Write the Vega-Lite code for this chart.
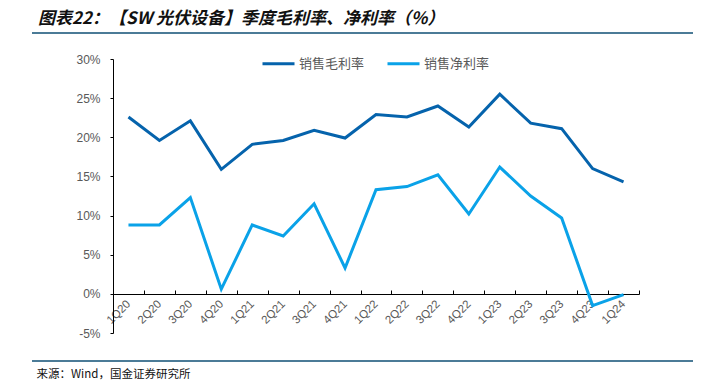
{
  "$schema": "https://vega.github.io/schema/vega-lite/v6.json",
  "autosize": "none",
  "width": 661,
  "height": 328,
  "padding": {"left": 32, "top": 33, "right": 9, "bottom": 20},
  "background": "white",
  "title": {
    "text": "图表22：【SW 光伏设备】季度毛利率、净利率（%）",
    "anchor": "start",
    "frame": "group",
    "dx": 6,
    "offset": 5,
    "font": "Noto Sans CJK SC",
    "fontSize": 17,
    "fontWeight": "bold",
    "fontStyle": "italic",
    "color": "#111111"
  },
  "config": {
    "view": {"stroke": "#4b7b97", "strokeWidth": 2, "strokeDash": [661, 328]},
    "axis": {"grid": false}
  },
  "data": {
    "values": [
      {"q": "1Q20", "s": "销售毛利率", "v": 22.6},
      {"q": "2Q20", "s": "销售毛利率", "v": 19.6},
      {"q": "3Q20", "s": "销售毛利率", "v": 22.1},
      {"q": "4Q20", "s": "销售毛利率", "v": 15.9},
      {"q": "1Q21", "s": "销售毛利率", "v": 19.1},
      {"q": "2Q21", "s": "销售毛利率", "v": 19.6},
      {"q": "3Q21", "s": "销售毛利率", "v": 20.9},
      {"q": "4Q21", "s": "销售毛利率", "v": 19.9},
      {"q": "1Q22", "s": "销售毛利率", "v": 22.9},
      {"q": "2Q22", "s": "销售毛利率", "v": 22.6},
      {"q": "3Q22", "s": "销售毛利率", "v": 24.0},
      {"q": "4Q22", "s": "销售毛利率", "v": 21.3},
      {"q": "1Q23", "s": "销售毛利率", "v": 25.5},
      {"q": "2Q23", "s": "销售毛利率", "v": 21.8},
      {"q": "3Q23", "s": "销售毛利率", "v": 21.1},
      {"q": "4Q23", "s": "销售毛利率", "v": 16.0},
      {"q": "1Q24", "s": "销售毛利率", "v": 14.3},
      {"q": "1Q20", "s": "销售净利率", "v": 8.8},
      {"q": "2Q20", "s": "销售净利率", "v": 8.8},
      {"q": "3Q20", "s": "销售净利率", "v": 12.3},
      {"q": "4Q20", "s": "销售净利率", "v": 0.6},
      {"q": "1Q21", "s": "销售净利率", "v": 8.8},
      {"q": "2Q21", "s": "销售净利率", "v": 7.4},
      {"q": "3Q21", "s": "销售净利率", "v": 11.5},
      {"q": "4Q21", "s": "销售净利率", "v": 3.3},
      {"q": "1Q22", "s": "销售净利率", "v": 13.3},
      {"q": "2Q22", "s": "销售净利率", "v": 13.7},
      {"q": "3Q22", "s": "销售净利率", "v": 15.2},
      {"q": "4Q22", "s": "销售净利率", "v": 10.2},
      {"q": "1Q23", "s": "销售净利率", "v": 16.2},
      {"q": "2Q23", "s": "销售净利率", "v": 12.5},
      {"q": "3Q23", "s": "销售净利率", "v": 9.7},
      {"q": "4Q23", "s": "销售净利率", "v": -1.5},
      {"q": "1Q24", "s": "销售净利率", "v": -0.1}
    ]
  },
  "mark": {"type": "line", "strokeWidth": 3, "strokeJoin": "miter"},
  "encoding": {
    "x": {
      "field": "q",
      "type": "nominal",
      "sort": null,
      "bandPosition": 0.5,
      "scale": {"type": "band", "range": [81, 607], "paddingInner": 0, "paddingOuter": 0},
      "axis": {
        "orient": "bottom",
        "offset": -67,
        "domainColor": "#000000",
        "domainWidth": 1,
        "tickColor": "#000000",
        "tickSize": -4,
        "tickBand": "extent",
        "labelAngle": -45,
        "labelAlign": "right",
        "labelBaseline": "middle",
        "labelPadding": 12,
        "labelColor": "#595959",
        "labelFont": "Liberation Sans",
        "labelFontSize": 11.5,
        "title": "来源：Wind，国金证券研究所",
        "titleX": 4,
        "titleY": 83,
        "titleAlign": "left",
        "titleAnchor": null,
        "titleBaseline": "alphabetic",
        "titleFont": "Noto Sans CJK SC",
        "titleFontSize": 11.5,
        "titleFontWeight": "normal",
        "titleColor": "#111111"
      }
    },
    "y": {
      "field": "v",
      "type": "quantitative",
      "scale": {"domain": [-5, 30], "range": [300, 26], "nice": false, "zero": false},
      "axis": {
        "orient": "left",
        "offset": -81,
        "values": [-5, 0, 5, 10, 15, 20, 25, 30],
        "labelExpr": "datum.value + '%'",
        "domainColor": "#000000",
        "tickColor": "#000000",
        "tickSize": 3,
        "labelPadding": 10,
        "labelColor": "#595959",
        "labelFont": "Liberation Sans",
        "labelFontSize": 12,
        "title": null
      }
    },
    "color": {
      "field": "s",
      "type": "nominal",
      "sort": ["销售毛利率", "销售净利率"],
      "scale": {"domain": ["销售毛利率", "销售净利率"], "range": ["#0563ac", "#0aa2e8"]},
      "legend": {
        "title": null,
        "orient": "none",
        "direction": "horizontal",
        "legendX": 229,
        "legendY": 13,
        "padding": 0,
        "symbolType": "stroke",
        "symbolSize": 1024,
        "symbolStrokeWidth": 3,
        "labelOffset": 3,
        "columnPadding": 16,
        "labelFont": "Noto Sans CJK SC",
        "labelFontSize": 13,
        "labelColor": "#595959"
      }
    }
  }
}
